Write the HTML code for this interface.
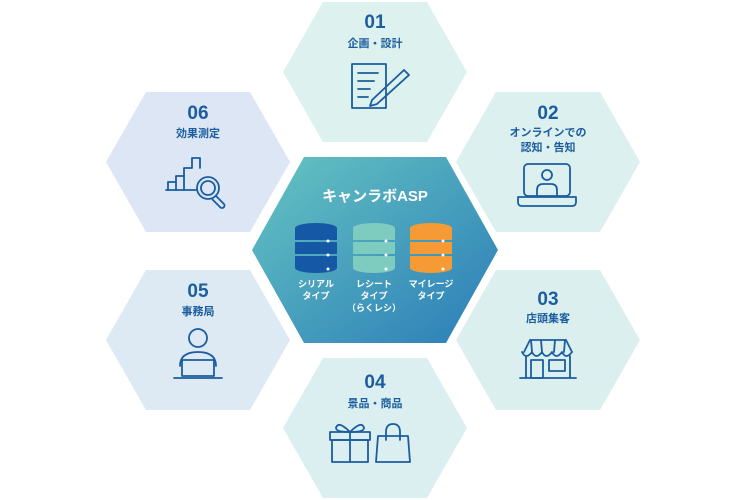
<!DOCTYPE html>
<html><head><meta charset="utf-8"><style>
html,body{margin:0;padding:0;background:#fff;width:750px;height:500px;overflow:hidden}
text{font-family:"Liberation Sans","Noto Sans CJK JP",sans-serif;font-weight:bold;text-anchor:middle}
</style></head><body>
<svg width="750" height="500" viewBox="0 0 750 500" xmlns="http://www.w3.org/2000/svg">
<defs>
<linearGradient id="g" x1="0" y1="0" x2="1" y2="1">
<stop offset="0" stop-color="#66c4c2"/><stop offset="1" stop-color="#2a7db8"/>
</linearGradient>
</defs>
<!-- hexes -->
<polygon points="283,72 323,2 427,2 467,72 427,142 323,142" fill="#ddf1ee"/>
<polygon points="456,162 496,92 600,92 640,162 600,232 496,232" fill="#dcf0ef"/>
<polygon points="456,340 496,270 600,270 640,340 600,410 496,410" fill="#dcefef"/>
<polygon points="283,428 323,358 427,358 467,428 427,498 323,498" fill="#dceff0"/>
<polygon points="106,340 146,270 250,270 290,340 250,410 146,410" fill="#dde9f3"/>
<polygon points="106,162 146,92 250,92 290,162 250,232 146,232" fill="#dce6f4"/>
<polygon points="252,250 304,157 446,157 498,250 446,343 304,343" fill="url(#g)"/>

<g fill="#1b5d9f">
<text x="375" y="28" font-size="19">01</text>
<text x="375" y="47" font-size="11">企画・設計</text>
<text x="548" y="119" font-size="19">02</text>
<text x="548" y="136" font-size="11">オンラインでの</text>
<text x="548" y="151" font-size="11">認知・告知</text>
<text x="548" y="305" font-size="19">03</text>
<text x="548" y="322" font-size="11">店頭集客</text>
<text x="375" y="388" font-size="19">04</text>
<text x="375" y="407" font-size="11">景品・商品</text>
<text x="198" y="297" font-size="19">05</text>
<text x="198" y="315" font-size="11">事務局</text>
<text x="198" y="119" font-size="19">06</text>
<text x="198" y="137" font-size="11">効果測定</text>
</g>

<g fill="none" stroke="#1b5d9f" stroke-width="1.8" stroke-linejoin="round" stroke-linecap="round">
<!-- 01 document + pen -->
<rect x="352" y="64" width="34" height="44"/>
<line x1="358" y1="73" x2="378" y2="73"/><line x1="358" y1="81" x2="374" y2="81"/><line x1="358" y1="89" x2="370" y2="89"/><line x1="358" y1="97" x2="368" y2="97"/>
<path d="M372 100 L404 70 L409 75 L377 104 L370 106 Z"/>
<!-- 02 laptop -->
<rect x="524" y="164" width="46" height="32" rx="4"/>
<circle cx="547" cy="175" r="5"/>
<path d="M537 196 v-6 q0-6 6-6 h8 q6 0 6 6 v6"/>
<path d="M518 197 h58 v5 q0 4 -4 4 h-50 q-4 0 -4-4 z"/>
<!-- 03 shop -->
<path d="M524 352 l6-12 h36 l6 12"/>
<path d="M522 352 q4 8 10 0 q4 8 10 0 q4 8 10 0 q4 8 10 0 q4 8 10 0"/>
<line x1="531" y1="340" x2="532" y2="352"/><line x1="541" y1="340" x2="542" y2="352"/><line x1="555" y1="340" x2="554" y2="352"/><line x1="565" y1="340" x2="564" y2="352"/>
<path d="M526 356 v22 M570 356 v22"/>
<line x1="520" y1="378" x2="576" y2="378"/>
<rect x="531" y="360" width="12" height="18"/><rect x="549" y="360" width="16" height="11"/>
<!-- 04 gift + bag -->
<rect x="332" y="440" width="36" height="22"/>
<rect x="330" y="432" width="40" height="8"/>
<line x1="350" y1="432" x2="350" y2="462"/>
<path d="M350 432 q-12 -12 -14 -4 q0 4 14 4 q12 -12 14 -4 q0 4 -14 4"/>
<path d="M378 436 h30 l2 26 h-34 z"/>
<path d="M386 440 v-8 q0-8 7-8 q7 0 7 8 v8"/>
<!-- 05 person at laptop -->
<circle cx="198" cy="338" r="9"/>
<path d="M180 366 q0-14 18-14 q18 0 18 14"/>
<rect x="182" y="360" width="32" height="16" fill="#dde9f3"/>
<line x1="174" y1="378" x2="222" y2="378"/>
<!-- 06 bars + magnifier -->
<path d="M168 190 v-8 h8 v8 M176 190 v-14 h8 v14 M184 190 v-22 h8 M192 168 v-10 h8 v10"/>
<line x1="166" y1="190" x2="196" y2="190"/>
<circle cx="208" cy="188" r="11"/><circle cx="208" cy="188" r="7"/>
<path d="M216 196 l8 8 a2.5 2.5 0 0 1 -3.5 3.5 l-8-8"/>
</g>

<!-- center -->
<text x="375" y="201" font-size="15" fill="#fff">キャンラボASP</text>
<g>
<g fill="#1559a6">
<ellipse cx="316" cy="228" rx="21" ry="5"/>
<rect x="295" y="228" width="42" height="12"/><rect x="295" y="242" width="42" height="12"/><rect x="295" y="256" width="42" height="12"/>
<ellipse cx="316" cy="268" rx="21" ry="5"/>
</g>
<g fill="#7ecbc0">
<ellipse cx="374" cy="228" rx="21" ry="5"/>
<rect x="353" y="228" width="42" height="12"/><rect x="353" y="242" width="42" height="12"/><rect x="353" y="256" width="42" height="12"/>
<ellipse cx="374" cy="268" rx="21" ry="5"/>
</g>
<g fill="#f59a35">
<ellipse cx="431" cy="228" rx="21" ry="5"/>
<rect x="410" y="228" width="42" height="12"/><rect x="410" y="242" width="42" height="12"/><rect x="410" y="256" width="42" height="12"/>
<ellipse cx="431" cy="268" rx="21" ry="5"/>
</g>
<g fill="#fff"><circle cx="328" cy="241" r="1.5"/><circle cx="328" cy="255" r="1.5"/><circle cx="328" cy="269" r="1.5"/>
<circle cx="386" cy="241" r="1.5"/><circle cx="386" cy="255" r="1.5"/><circle cx="386" cy="269" r="1.5"/>
<circle cx="443" cy="241" r="1.5"/><circle cx="443" cy="255" r="1.5"/><circle cx="443" cy="269" r="1.5"/></g>
</g>
<g fill="#fff" font-size="9">
<text x="316" y="287">シリアル</text><text x="316" y="299">タイプ</text>
<text x="374" y="287">レシート</text><text x="374" y="299">タイプ</text><text x="374" y="311">（らくレシ）</text>
<text x="431" y="287">マイレージ</text><text x="431" y="299">タイプ</text>
</g>
</svg>
</body></html>
